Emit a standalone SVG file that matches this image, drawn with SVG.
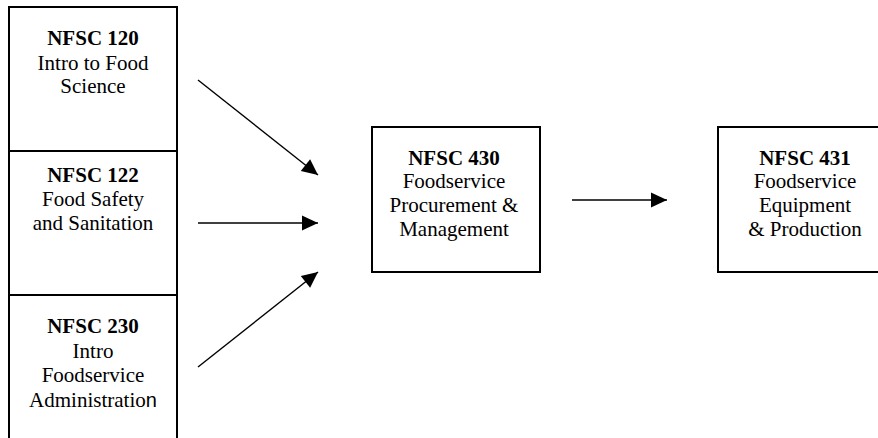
<svg xmlns="http://www.w3.org/2000/svg" width="878" height="438" viewBox="0 0 878 438">
  <style>
    .box { fill: #fff; stroke: #000; stroke-width: 2; }
    .lbl { font-size: 21px; fill: #000; text-anchor: middle; }
    .code { font-weight: bold; }
    .edge { stroke: #000; stroke-width: 1.4; fill: none; marker-end: url(#head); }
  </style>
  <defs>
    <marker id="head" markerUnits="userSpaceOnUse" markerWidth="17" markerHeight="16" refX="16" refY="7.5" orient="auto" overflow="visible">
      <path d="M0,0 L16,7.5 L0,15 Z" fill="#000"/>
    </marker>
  </defs>
  <rect width="878" height="438" fill="#fff"/>

  <g font-family="'Liberation Serif', 'DejaVu Serif', serif">
    <g id="nfsc120">
      <rect class="box" x="9" y="7" width="168" height="144"/>
      <text class="lbl" x="93" y="45"><tspan class="code">NFSC 120</tspan><tspan x="93" dy="25">Intro to Food</tspan><tspan x="93" dy="23">Science</tspan></text>
    </g>

    <g id="nfsc122">
      <rect class="box" x="9" y="151" width="168" height="144"/>
      <text class="lbl" x="93" y="182"><tspan class="code">NFSC 122</tspan><tspan x="93" dy="24">Food Safety</tspan><tspan x="93" dy="24">and Sanitation</tspan></text>
    </g>

    <g id="nfsc230">
      <rect class="box" x="9" y="295" width="168" height="160"/>
      <text class="lbl" x="93" y="333"><tspan class="code">NFSC 230</tspan><tspan x="93" dy="25">Intro</tspan><tspan x="93" dy="24">Foodservice</tspan><tspan x="93" dy="25">Administratio<tspan font-family="'Liberation Sans', sans-serif" font-size="20">n</tspan></tspan></text>
    </g>

    <g id="nfsc430">
      <rect class="box" x="372" y="127" width="168" height="145"/>
      <text class="lbl" x="454" y="165"><tspan class="code">NFSC 430</tspan><tspan x="454" dy="23">Foodservice</tspan><tspan x="454" dy="24">Procurement &amp;</tspan><tspan x="454" dy="24">Management</tspan></text>
    </g>

    <g id="nfsc431">
      <rect class="box" x="718" y="127" width="175" height="145"/>
      <text class="lbl" x="805" y="165"><tspan class="code">NFSC 431</tspan><tspan x="805" dy="23">Foodservice</tspan><tspan x="805" dy="24">Equipment</tspan><tspan x="805" dy="24">&amp; Production</tspan></text>
    </g>
  </g>

  <g id="connectors">
    <line class="edge" x1="198" y1="80" x2="318" y2="175"/>
    <line class="edge" x1="198" y1="223" x2="318" y2="223"/>
    <line class="edge" x1="198" y1="367" x2="318" y2="272"/>
    <line class="edge" x1="572" y1="200" x2="667" y2="200"/>
  </g>
</svg>
